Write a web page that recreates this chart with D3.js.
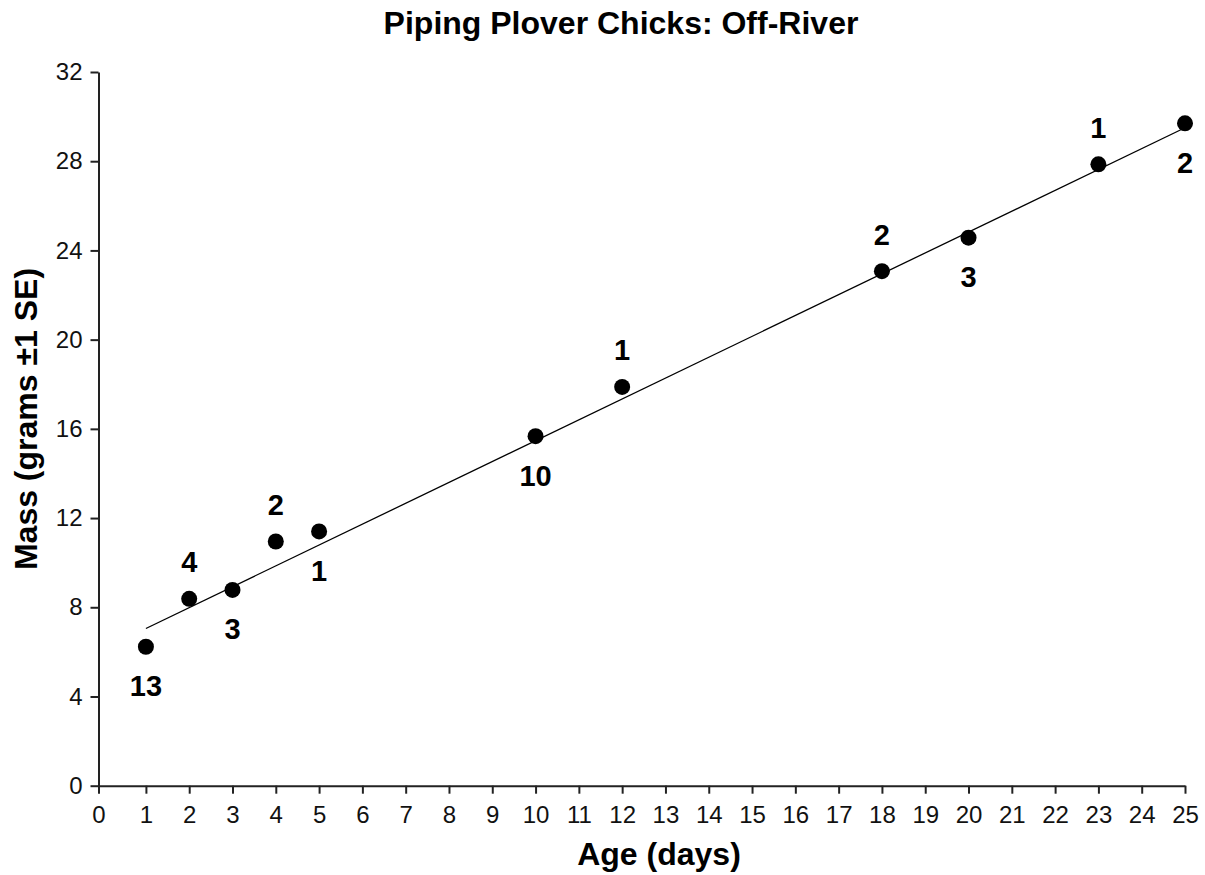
<!DOCTYPE html>
<html>
<head>
<meta charset="utf-8">
<script src="https://cdn.jsdelivr.net/npm/d3@7"></script>
<style>
  body { margin: 0; background: #fff; }
  svg { display: block; font-family: "Liberation Sans", Arial, sans-serif; }
</style>
</head>
<body>
<svg id="chart" width="1205" height="875"></svg>
<script>
// ages of chicks (days) and mean mass (grams)
const ages = [1, 2, 3, 4, 5, 10, 12, 18, 20, 23, 25];
const masses = [6.23, 8.38, 8.78, 10.95, 11.4, 15.67, 17.88, 23.07, 24.57, 27.86, 29.7];
// sample size shown next to each point, and whether it sits above or below
const sampleSizes = [13, 4, 3, 2, 1, 10, 1, 2, 3, 1, 2];
const labelSides = ["below", "above", "below", "above", "below", "below", "above", "above", "below", "above", "below"];
// fitted line end points
const trendAges = [1, 25];
const trendMasses = [7.05, 29.5];
// tick labels
const xTickLabels = d3.range(0, 26);
const yTickLabels = [0, 4, 8, 12, 16, 20, 24, 28, 32];

const svg = d3.select("#chart");
const margin = { top: 72, right: 20, bottom: 89, left: 98.5 };
const width = 1185 - margin.left;
const height = 785.7 - margin.top;

// the x axis starts a hair before 0, as in the original
const xStart = -0.095;
const x = d3.scaleLinear().domain([xStart, 25]).range([margin.left, margin.left + width]);
const y = d3.scaleLinear().domain([0, 32]).range([margin.top + height, margin.top]);

const data = ages.map((a, i) => ({ age: a, mass: masses[i], n: sampleSizes[i], side: labelSides[i] }));

// y axis
const yAxis = svg.append("g")
  .attr("transform", `translate(${margin.left},0)`)
  .call(d3.axisLeft(y).tickValues(yTickLabels).tickSize(8).tickPadding(8).tickSizeOuter(0));

// x axis
const xAxis = svg.append("g")
  .attr("transform", `translate(0,${margin.top + height})`)
  .call(d3.axisBottom(x)
    .tickValues(xTickLabels.map((d) => (d === 0 ? xStart : d)))
    .tickFormat((d) => (d === xStart ? "0" : d))
    .tickSize(8).tickPadding(12).tickSizeOuter(0));

[xAxis, yAxis].forEach((g) => {
  g.select(".domain").attr("stroke", "#222").attr("stroke-width", 2);
  g.selectAll(".tick line").attr("stroke", "#222").attr("stroke-width", 2);
  g.selectAll(".tick text")
    .attr("fill", "#111")
    .style("font-size", "24px")
    .style("font-family", "'Liberation Sans', Arial, sans-serif");
});

// trend line
const trend = trendAges.map((a, i) => ({ age: a, mass: trendMasses[i] }));
svg.append("path")
  .datum(trend)
  .attr("fill", "none")
  .attr("stroke", "#000")
  .attr("stroke-width", 1.3)
  .attr("d", d3.line().x((d) => x(d.age)).y((d) => y(d.mass)));

// points
svg.append("g")
  .selectAll("circle")
  .data(data)
  .join("circle")
  .attr("cx", (d) => x(d.age))
  .attr("cy", (d) => y(d.mass))
  .attr("r", 8)
  .attr("fill", "#000");

// sample size labels
svg.append("g")
  .selectAll("text")
  .data(data)
  .join("text")
  .attr("x", (d) => x(d.age))
  .attr("y", (d) => y(d.mass) + (d.side === "above" ? -37 : 39))
  .attr("dy", "0.36em")
  .attr("text-anchor", "middle")
  .style("font-size", "29px")
  .style("font-weight", "bold")
  .text((d) => d.n);

// title
svg.append("text")
  .attr("x", 621)
  .attr("y", 34)
  .attr("text-anchor", "middle")
  .style("font-size", "32px")
  .style("font-weight", "bold")
  .text("Piping Plover Chicks: Off-River");

// axis labels
svg.append("text")
  .attr("x", 659)
  .attr("y", 865)
  .attr("text-anchor", "middle")
  .style("font-size", "32px")
  .style("font-weight", "bold")
  .text("Age (days)");

svg.append("text")
  .attr("transform", "translate(37,419) rotate(-90)")
  .attr("text-anchor", "middle")
  .style("font-size", "32px")
  .style("font-weight", "bold")
  .text("Mass (grams ±1 SE)");
</script>
</body>
</html>
